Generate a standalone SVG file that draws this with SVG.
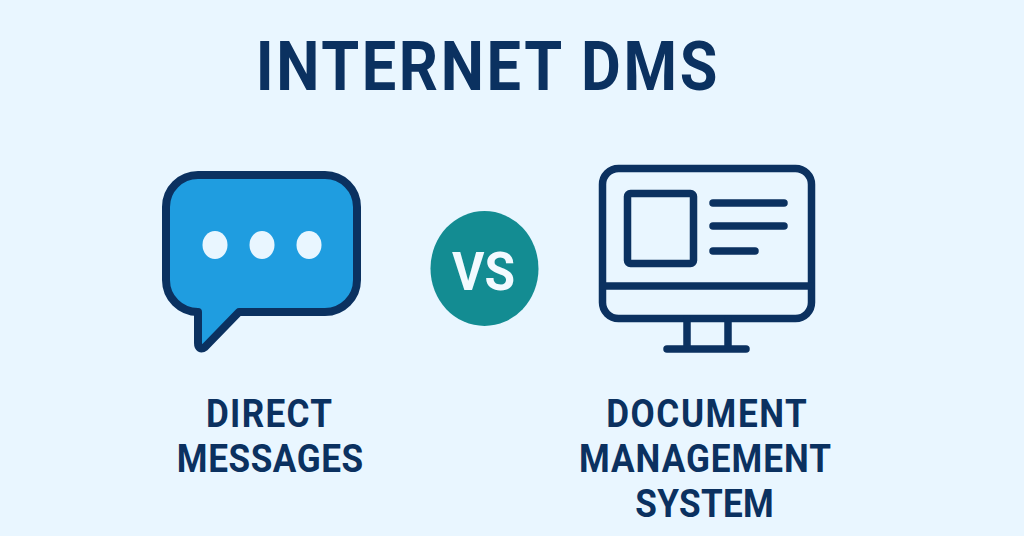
<svg xmlns="http://www.w3.org/2000/svg" width="1024" height="536" viewBox="0 0 1024 536">
<style>
text{font-family:"Roboto","Liberation Sans",sans-serif;font-weight:700;fill:#0b3160;text-anchor:middle}
.l{font-size:39px}
.s{fill:none;stroke:#0b3160;stroke-width:7.500;stroke-linecap:round;stroke-linejoin:round}
.d{fill:#e9f6ff}
</style>
<rect width="1024" height="536" fill="#e9f6ff"/>
<text id="title" transform="translate(486.500 90) scale(.9 1)" font-size="68" textLength="513" lengthAdjust="spacing">INTERNET DMS</text>
<g id="dm">
<path d="M198 175H325A32 32 0 0 1 357 207V280A32 32 0 0 1 325 312H239L205 347C201 350 198 348 198 343V312H198A32 32 0 0 1 166 280V207A32 32 0 0 1 198 175Z" fill="#1f9de0" stroke="#0b3160" stroke-width="8" stroke-linejoin="round"/>
<ellipse class="d" cx="215" cy="245" rx="12.500" ry="14"/><ellipse class="d" cx="262" cy="245" rx="12.500" ry="14"/><ellipse class="d" cx="309" cy="245" rx="12.500" ry="14"/>
<text class="l" transform="translate(269 427) scale(.9 1)" textLength="140" lengthAdjust="spacing">DIRECT</text><text class="l" transform="translate(270 472) scale(.9 1)" textLength="207" lengthAdjust="spacing">MESSAGES</text>
</g>
<g id="vs">
<ellipse cx="484.500" cy="268.500" rx="54" ry="57.500" fill="#138c92"/>
<text x="483.500" y="289.500" font-size="53" textLength="63" lengthAdjust="spacingAndGlyphs" style="fill:#f2faff">VS</text>
</g>
<g id="dms">
<rect class="s" x="602.500" y="168.500" width="209" height="150" rx="16"/>
<path class="s" d="M603 286H811M687 319V349M728 319V349M667 349H746M713 203H784M713 226H784M713 251H755"/>
<rect class="s" x="627.500" y="193.500" width="66" height="70" rx="3"/>
<text class="l" transform="translate(706.500 427) scale(.9 1)" textLength="223" lengthAdjust="spacing">DOCUMENT</text><text class="l" transform="translate(705 472) scale(.9 1)" textLength="280" lengthAdjust="spacing">MANAGEMENT</text><text class="l" transform="translate(704.500 517) scale(.9 1)" textLength="154" lengthAdjust="spacing">SYSTEM</text>
</g>
<g id="connectors"/>
</svg>
